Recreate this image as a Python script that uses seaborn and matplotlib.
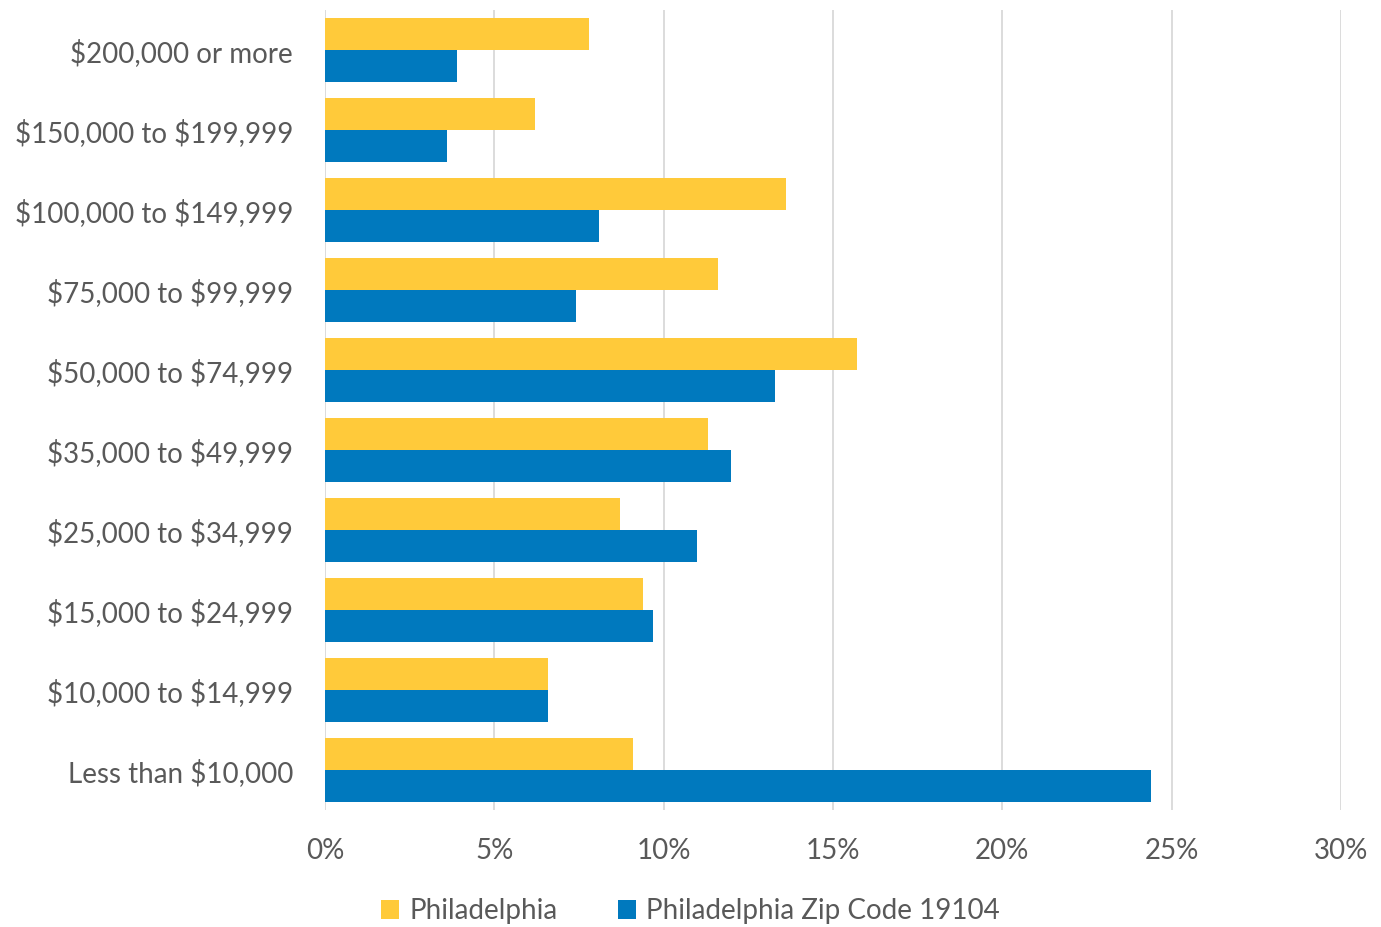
import numpy as np
import pandas as pd
import seaborn as sns
import matplotlib.pyplot as plt
from matplotlib.ticker import PercentFormatter

brackets = ["$200,000 or more", "$150,000 to $199,999", "$100,000 to $149,999",
            "$75,000 to $99,999", "$50,000 to $74,999", "$35,000 to $49,999",
            "$25,000 to $34,999", "$15,000 to $24,999", "$10,000 to $14,999",
            "Less than $10,000"]
philly = [7.8, 6.2, 13.6, 11.6, 15.7, 11.3, 8.7, 9.4, 6.6, 9.1]
zip19104 = [3.9, 3.6, 8.1, 7.4, 13.3, 12.0, 11.0, 9.7, 6.6, 24.4]
series = ["Philadelphia", "Philadelphia Zip Code 19104"]
colors = ["#FFCA3A", "#0079BE"]

df = pd.DataFrame({
    "bracket": brackets * 2,
    "pct": philly + zip19104,
    "area": [series[0]] * len(brackets) + [series[1]] * len(brackets),
})

sns.set_theme(style="white")
plt.rcParams['font.family'] = ['Lato', 'DejaVu Sans']
plt.rcParams['text.parse_math'] = False
txt = "#595959"
fs = 20

fig = plt.figure(figsize=(13.81, 9.27), dpi=100)
ax = fig.add_axes([0.2353, 0.126, 0.7357, 0.863])

sns.barplot(data=df, y="bracket", x="pct", hue="area", order=brackets,
            hue_order=series, palette=colors, width=0.8, saturation=1,
            orient="h", linewidth=0, ax=ax)

ax.set_xlim(0, 30)
ax.set_ylim(len(brackets) - 0.5, -0.5)
ax.set_xticks(np.arange(0, 31, 5))
ax.xaxis.set_major_formatter(PercentFormatter(decimals=0))
ax.grid(axis="x", color="#D9D9D9", linewidth=1.3)
ax.set_axisbelow(True)
for s in ax.spines.values():
    s.set_visible(False)
ax.set_xlabel("")
ax.set_ylabel("")
ax.tick_params(axis="both", length=0, labelsize=fs, colors=txt)
ax.tick_params(axis="x", pad=20)
ax.tick_params(axis="y", pad=23)

handles, labels = ax.get_legend_handles_labels()
ax.legend_.remove()
leg = fig.legend(handles, labels, loc="center", bbox_to_anchor=(0.5, 0.017), ncol=2,
                 frameon=False, fontsize=fs, handlelength=0.65, handleheight=0.65,
                 handletextpad=0.35, columnspacing=2.2)
for t in leg.get_texts():
    t.set_color(txt)

fig.savefig("out.png", dpi=100)
